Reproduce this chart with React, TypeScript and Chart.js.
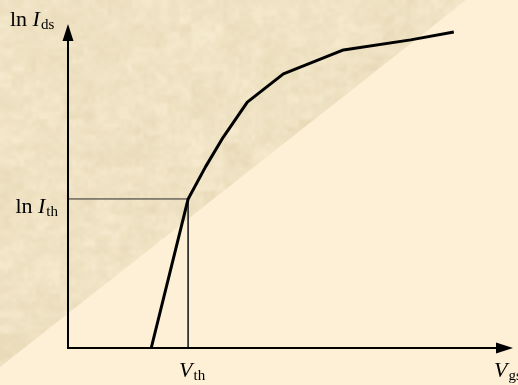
import { useEffect, useRef } from "react";
import { Chart, registerables } from "chart.js";

Chart.register(...registerables);

// Transfer characteristic: gate voltage vs. natural log of drain current
const gateVoltage = [1.87, 2.7, 3.09, 3.49, 4.03, 4.84, 6.19, 7.7, 8.67];
const lnDrainCurrent = [0, 4.6, 5.59, 6.51, 7.59, 8.46, 9.2, 9.51, 9.75];

// Threshold operating point
const thresholdVoltage = 2.7;
const thresholdLnCurrent = 4.6;

// Axis extents
const xRange = [0, 10];
const yRange = [0, 10];

// Labels as [prefix, italic symbol, subscript]
const yAxisLabel = ["ln ", "I", "ds"];
const thresholdCurrentLabel = ["ln ", "I", "th"];
const thresholdVoltageLabel = ["", "V", "th"];
const xAxisLabel = ["", "V", "gs"];

const W = 518;
const H = 385;
const SERIF = '"Liberation Serif", "DejaVu Serif", serif';

function hash(i: number, j: number) {
  const s = Math.sin(i * 12.9898 + j * 78.233) * 43758.5453;
  return s - Math.floor(s);
}

function makeParchment(w: number, h: number) {
  const cell = 4;
  const cols = Math.ceil(w / cell);
  const rows = Math.ceil(h / cell);
  const c = document.createElement("canvas");
  c.width = cols;
  c.height = rows;
  const g = c.getContext("2d")!;
  const img = g.createImageData(cols, rows);
  for (let j = 0; j < rows; j++) {
    for (let i = 0; i < cols; i++) {
      const v =
        0.35 * hash(i, j) +
        0.35 * hash(Math.floor(i / 3), Math.floor(j / 2) + 97) +
        0.3 * hash(Math.floor(i / 8) + 31, Math.floor(j / 6));
      const k = (j * cols + i) * 4;
      img.data[k] = 231 + v * 17;
      img.data[k + 1] = 217 + v * 19;
      img.data[k + 2] = 182 + v * 27;
      img.data[k + 3] = 255;
    }
  }
  g.putImageData(img, 0, 0);
  return c;
}

function drawLabel(
  ctx: CanvasRenderingContext2D,
  parts: string[],
  x: number,
  y: number,
  align: "left" | "right" | "center"
) {
  const [prefix, sym, sub] = parts;
  const main = `22px ${SERIF}`;
  const ital = `italic 22px ${SERIF}`;
  const small = `15px ${SERIF}`;
  ctx.font = main;
  const wp = ctx.measureText(prefix).width;
  ctx.font = ital;
  const ws = ctx.measureText(sym).width;
  ctx.font = small;
  const wb = ctx.measureText(sub).width;
  const total = wp + ws + 1 + wb;
  let x0 = x;
  if (align === "right") x0 = x - total;
  if (align === "center") x0 = x - total / 2;
  ctx.fillStyle = "#000";
  ctx.textAlign = "left";
  ctx.textBaseline = "alphabetic";
  ctx.font = main;
  ctx.fillText(prefix, x0, y);
  ctx.font = ital;
  ctx.fillText(sym, x0 + wp, y);
  ctx.font = small;
  ctx.fillText(sub, x0 + wp + ws + 1, y + 3);
}

const backdrop = {
  id: "backdrop",
  beforeDraw(chart: Chart) {
    const ctx = chart.ctx;
    ctx.save();
    ctx.fillStyle = "#fdf0d6";
    ctx.fillRect(0, 0, W, H);
    const tex = makeParchment(W, H);
    ctx.beginPath();
    ctx.moveTo(0, 0);
    ctx.lineTo(466, 0);
    ctx.lineTo(0, 367);
    ctx.closePath();
    ctx.clip();
    ctx.imageSmoothingEnabled = true;
    ctx.drawImage(tex, 0, 0, W, H);
    ctx.restore();
  },
};

const axesAndLabels = {
  id: "axesAndLabels",
  afterDatasetsDraw(chart: Chart) {
    const ctx = chart.ctx;
    const xs = chart.scales.x;
    const ys = chart.scales.y;
    const x0 = xs.getPixelForValue(xRange[0]);
    const x1 = xs.getPixelForValue(xRange[1]);
    const y0 = ys.getPixelForValue(yRange[0]);
    const y1 = ys.getPixelForValue(yRange[1]);
    ctx.save();
    ctx.strokeStyle = "#000";
    ctx.fillStyle = "#000";
    ctx.lineWidth = 2;
    ctx.beginPath();
    ctx.moveTo(x0, y0);
    ctx.lineTo(x0, y1 + 10);
    ctx.moveTo(x0 - 1, y0);
    ctx.lineTo(x1 - 10, y0);
    ctx.stroke();
    // arrow heads
    ctx.beginPath();
    ctx.moveTo(x0, y1);
    ctx.lineTo(x0 - 5.5, y1 + 17);
    ctx.lineTo(x0 + 5.5, y1 + 17);
    ctx.closePath();
    ctx.fill();
    ctx.beginPath();
    ctx.moveTo(x1, y0);
    ctx.lineTo(x1 - 17, y0 - 5.5);
    ctx.lineTo(x1 - 17, y0 + 5.5);
    ctx.closePath();
    ctx.fill();

    const vx = xs.getPixelForValue(thresholdVoltage);
    const iy = ys.getPixelForValue(thresholdLnCurrent);
    drawLabel(ctx, yAxisLabel, 10, y1 + 2, "left");
    drawLabel(ctx, thresholdCurrentLabel, x0 - 10, iy + 14, "right");
    drawLabel(ctx, thresholdVoltageLabel, vx + 4, y0 + 29, "center");
    drawLabel(ctx, xAxisLabel, x1 - 19, y0 + 29, "left");
    ctx.restore();
  },
};

export default function App() {
  const ref = useRef<HTMLCanvasElement>(null);

  useEffect(() => {
    if (!ref.current) return;
    const curve = gateVoltage.map((v, i) => ({ x: v, y: lnDrainCurrent[i] }));
    const guide = [
      { x: xRange[0], y: thresholdLnCurrent },
      { x: thresholdVoltage, y: thresholdLnCurrent },
      { x: thresholdVoltage, y: yRange[0] },
    ];
    const chart = new Chart(ref.current, {
      type: "scatter",
      data: {
        datasets: [
          {
            data: guide,
            showLine: true,
            borderColor: "#2a2a2a",
            borderWidth: 1,
            pointRadius: 0,
            tension: 0,
            order: 2,
          },
          {
            data: curve,
            showLine: true,
            borderColor: "#000",
            borderWidth: 3,
            pointRadius: 0,
            tension: 0,
            borderJoinStyle: "round",
            order: 1,
          },
        ],
      },
      options: {
        responsive: false,
        animation: false,
        devicePixelRatio: 1,
        layout: { padding: { left: 68, right: 5, top: 24, bottom: 37 } },
        plugins: {
          legend: { display: false },
          tooltip: { enabled: false },
        },
        scales: {
          x: { type: "linear", min: xRange[0], max: xRange[1], display: false },
          y: { type: "linear", min: yRange[0], max: yRange[1], display: false },
        },
      },
      plugins: [backdrop, axesAndLabels],
    });
    return () => chart.destroy();
  }, []);

  return (
    <div style={{ position: "fixed", left: 0, top: 0, width: W, height: H }}>
      <canvas ref={ref} width={W} height={H} style={{ display: "block" }} />
    </div>
  );
}
